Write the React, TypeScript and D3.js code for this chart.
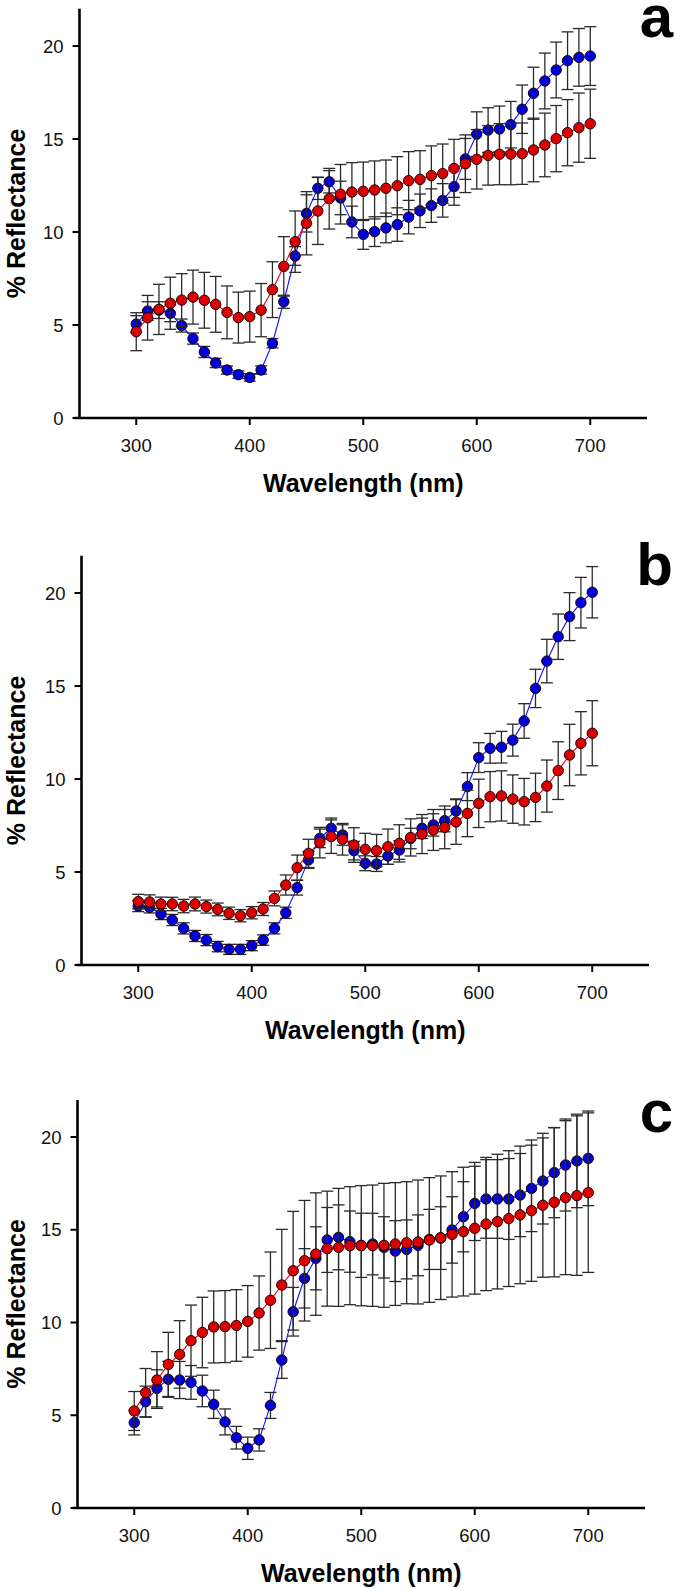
import React from 'react';
import * as d3 from 'd3';

const wavelengths = [300, 310, 320, 330, 340, 350, 360, 370, 380, 390, 400, 410, 420, 430, 440, 450, 460, 470, 480, 490, 500, 510, 520, 530, 540, 550, 560, 570, 580, 590, 600, 610, 620, 630, 640, 650, 660, 670, 680, 690, 700];
const xTicks = [300, 400, 500, 600, 700];
const yTicks = [0, 5, 10, 15, 20];

// Panel a
const aBlue = [5.05, 5.75, 5.8, 5.63, 4.97, 4.27, 3.55, 2.96, 2.58, 2.33, 2.18, 2.58, 4.02, 6.25, 8.71, 11.0, 12.35, 12.7, 11.83, 10.54, 9.87, 10.02, 10.22, 10.4, 10.8, 11.14, 11.42, 11.7, 12.44, 13.93, 15.26, 15.48, 15.54, 15.77, 16.6, 17.46, 18.12, 18.71, 19.21, 19.39, 19.46];
const aBlueErr = [0.45, 0.5, 0.45, 0.45, 0.35, 0.3, 0.3, 0.25, 0.22, 0.2, 0.2, 0.22, 0.25, 0.35, 0.5, 1.0, 0.6, 0.6, 0.9, 0.85, 0.8, 0.8, 0.8, 0.9, 0.9, 0.9, 0.9, 0.9, 1.0, 1.1, 1.2, 1.2, 1.23, 1.25, 1.3, 1.4, 1.5, 1.5, 1.55, 1.55, 1.58];
const aRed = [4.64, 5.39, 5.84, 6.17, 6.34, 6.5, 6.33, 6.11, 5.68, 5.4, 5.45, 5.8, 6.9, 8.15, 9.48, 10.47, 11.13, 11.79, 12.03, 12.15, 12.19, 12.26, 12.35, 12.49, 12.76, 12.83, 13.03, 13.14, 13.42, 13.67, 13.91, 14.12, 14.18, 14.19, 14.21, 14.41, 14.68, 15.02, 15.34, 15.61, 15.82];
const aRedErr = [1.02, 1.2, 1.35, 1.4, 1.42, 1.45, 1.5, 1.5, 1.42, 1.37, 1.37, 1.43, 1.5, 1.6, 1.65, 1.7, 1.8, 1.63, 1.6, 1.58, 1.57, 1.56, 1.52, 1.56, 1.56, 1.54, 1.6, 1.59, 1.56, 1.55, 1.6, 1.6, 1.64, 1.65, 1.65, 1.71, 1.71, 1.78, 1.78, 1.86, 1.86];

// Panel b
const bBlue = [3.17, 3.1, 2.74, 2.42, 1.97, 1.56, 1.34, 0.99, 0.84, 0.84, 1.04, 1.34, 1.97, 2.81, 4.16, 5.65, 6.81, 7.35, 6.99, 6.15, 5.47, 5.43, 5.86, 6.18, 6.8, 7.35, 7.53, 7.76, 8.28, 9.59, 11.15, 11.65, 11.71, 12.09, 13.12, 14.87, 16.34, 17.65, 18.73, 19.48, 20.04];
const bBlueErr = [0.3, 0.3, 0.3, 0.3, 0.3, 0.3, 0.3, 0.28, 0.27, 0.27, 0.27, 0.28, 0.3, 0.3, 0.4, 0.45, 0.5, 0.55, 0.55, 0.5, 0.4, 0.4, 0.45, 0.5, 0.55, 0.55, 0.6, 0.6, 0.65, 0.75, 0.8, 0.8, 0.85, 0.86, 0.93, 1.03, 1.17, 1.22, 1.29, 1.36, 1.38];
const bRed = [3.41, 3.39, 3.28, 3.28, 3.17, 3.28, 3.14, 2.99, 2.78, 2.65, 2.81, 3.01, 3.58, 4.3, 5.23, 6.0, 6.58, 6.9, 6.76, 6.45, 6.22, 6.15, 6.36, 6.54, 6.86, 7.04, 7.26, 7.4, 7.69, 8.15, 8.69, 9.05, 9.09, 8.92, 8.78, 9.01, 9.62, 10.45, 11.29, 11.92, 12.46];
const bRedErr = [0.39, 0.38, 0.37, 0.36, 0.36, 0.37, 0.35, 0.34, 0.33, 0.33, 0.33, 0.35, 0.4, 0.54, 0.68, 0.76, 0.82, 0.9, 0.85, 0.93, 0.86, 0.87, 0.95, 1.0, 1.0, 1.05, 1.1, 1.15, 1.2, 1.25, 1.3, 1.35, 1.35, 1.3, 1.25, 1.3, 1.4, 1.55, 1.65, 1.7, 1.75];

// Panel c
const cBlue = [4.6, 5.73, 6.45, 6.94, 6.9, 6.77, 6.31, 5.59, 4.64, 3.79, 3.22, 3.67, 5.53, 7.98, 10.58, 12.38, 13.46, 14.45, 14.59, 14.36, 14.16, 14.23, 14.05, 13.85, 13.94, 14.16, 14.48, 14.55, 14.99, 15.7, 16.42, 16.66, 16.66, 16.66, 16.87, 17.23, 17.63, 18.08, 18.49, 18.71, 18.85];
const cBlueErr = [0.66, 0.84, 1.0, 0.97, 1.0, 0.91, 0.85, 0.76, 0.7, 0.61, 0.6, 0.6, 0.7, 0.99, 1.31, 1.6, 1.7, 1.75, 1.75, 1.65, 1.73, 1.66, 1.65, 1.64, 1.59, 1.64, 1.62, 1.69, 1.79, 1.89, 2.0, 2.12, 2.12, 2.18, 2.24, 2.33, 2.32, 2.43, 2.48, 2.52, 2.55];
const cRed = [5.23, 6.22, 6.9, 7.74, 8.28, 9.02, 9.46, 9.76, 9.78, 9.84, 10.06, 10.51, 11.2, 12.02, 12.79, 13.33, 13.69, 13.98, 14.05, 14.14, 14.14, 14.14, 14.16, 14.23, 14.3, 14.34, 14.45, 14.57, 14.75, 14.9, 15.08, 15.31, 15.44, 15.6, 15.8, 16.03, 16.32, 16.48, 16.73, 16.84, 17.0];
const cRedErr = [1.05, 1.3, 1.53, 1.73, 1.82, 1.92, 1.9, 1.94, 1.94, 1.93, 1.93, 2.0, 2.6, 3.0, 3.2, 3.25, 3.3, 3.1, 3.18, 3.18, 3.24, 3.27, 3.34, 3.31, 3.29, 3.34, 3.36, 3.33, 3.38, 3.47, 3.55, 3.59, 3.63, 3.66, 3.71, 3.81, 3.88, 4.02, 4.15, 4.3, 4.3];

const FONT = '"Liberation Sans", Arial, Helvetica, sans-serif';
const BLUE_FILL = '#0000dc';
const BLUE_LINE = '#1010ff';
const RED_FILL = '#dc0000';
const RED_LINE = '#e80000';
const ERR_COLOR = '#2a2a2a';

type PanelProps = {
  label: string;
  labelY: number;
  left: number;
  zeroY: number;
  unit: number;
  blue: number[];
  blueErr: number[];
  red: number[];
  redErr: number[];
};

function Series({ values, errs, x, y, fill, lineColor }: any) {
  const line = d3
    .line<number>()
    .x((_, i) => x(wavelengths[i]))
    .y((d) => y(d));
  const cap = 6;
  return (
    <g>
      <g stroke={ERR_COLOR} strokeWidth={1.3} fill="none">
        {values.map((v: number, i: number) => {
          const cx = x(wavelengths[i]);
          const top = y(v + errs[i]);
          const bot = y(v - errs[i]);
          return (
            <g key={i}>
              <line x1={cx} x2={cx} y1={top} y2={bot} />
              <line x1={cx - cap} x2={cx + cap} y1={top} y2={top} />
              <line x1={cx - cap} x2={cx + cap} y1={bot} y2={bot} />
            </g>
          );
        })}
      </g>
      <path d={line(values) || ''} fill="none" stroke={lineColor} strokeWidth={1.1} />
      {values.map((v: number, i: number) => (
        <circle key={i} cx={x(wavelengths[i])} cy={y(v)} r={5.2} fill={fill} stroke="#1a0000" strokeWidth={1} />
      ))}
    </g>
  );
}

function Panel({ label, labelY, left, zeroY, unit, blue, blueErr, red, redErr }: PanelProps) {
  const x = d3.scaleLinear().domain([250, 750]).range([left, left + 567.5]);
  const y = d3.scaleLinear().domain([0, 22]).range([zeroY, zeroY - 22 * unit]);
  const centerY = (y(0) + y(22)) / 2;
  const centerX = (x(250) + x(750)) / 2;
  return (
    <g>
      <Series values={blue} errs={blueErr} x={x} y={y} fill={BLUE_FILL} lineColor={BLUE_LINE} />
      <Series values={red} errs={redErr} x={x} y={y} fill={RED_FILL} lineColor={RED_LINE} />
      <line x1={x(250)} x2={x(250)} y1={y(22)} y2={y(0)} stroke="#000" strokeWidth={2.6} />
      <line x1={x(250) - 5} x2={x(750)} y1={y(0)} y2={y(0)} stroke="#000" strokeWidth={2.6} />
      {yTicks.map((t) => (
        <g key={'y' + t}>
          <line x1={x(250) - 7} x2={x(250)} y1={y(t)} y2={y(t)} stroke="#000" strokeWidth={2} />
          <text x={x(250) - 16} y={y(t)} textAnchor="end" dominantBaseline="central" fontSize={18.5} fontFamily={FONT} fill="#111">
            {t}
          </text>
        </g>
      ))}
      {xTicks.map((t) => (
        <g key={'x' + t}>
          <line x1={x(t)} x2={x(t)} y1={y(0)} y2={y(0) + 7} stroke="#000" strokeWidth={2} />
          <text x={x(t)} y={y(0) + 34} textAnchor="middle" fontSize={18.5} fontFamily={FONT} fill="#111">
            {t}
          </text>
        </g>
      ))}
      <text x={centerX} y={y(0) + 74} textAnchor="middle" fontSize={25} fontWeight="bold" fontFamily={FONT} fill="#000">
        Wavelength (nm)
      </text>
      <text
        transform={`translate(25, ${centerY}) rotate(-90)`}
        textAnchor="middle"
        fontSize={25}
        fontWeight="bold"
        fontFamily={FONT}
        fill="#000"
      >
        % Reflectance
      </text>
      <text x={673} y={labelY} textAnchor="end" fontSize={60} fontWeight="bold" fontFamily={FONT} fill="#000">
        {label}
      </text>
    </g>
  );
}

export default function App() {
  return (
    <svg
      width={675}
      height={1591}
      viewBox="0 0 675 1591"
      style={{ position: 'absolute', left: 0, top: 0, background: '#fff' }}
    >
      <rect x={0} y={0} width={675} height={1591} fill="#fff" />
      <Panel label="a" labelY={37} left={79.5} zeroY={418} unit={18.6} blue={aBlue} blueErr={aBlueErr} red={aRed} redErr={aRedErr} />
      <Panel label="b" labelY={585} left={81.5} zeroY={965} unit={18.6} blue={bBlue} blueErr={bBlueErr} red={bRed} redErr={bRedErr} />
      <Panel label="c" labelY={1132} left={77.5} zeroY={1508} unit={18.55} blue={cBlue} blueErr={cBlueErr} red={cRed} redErr={cRedErr} />
    </svg>
  );
}
